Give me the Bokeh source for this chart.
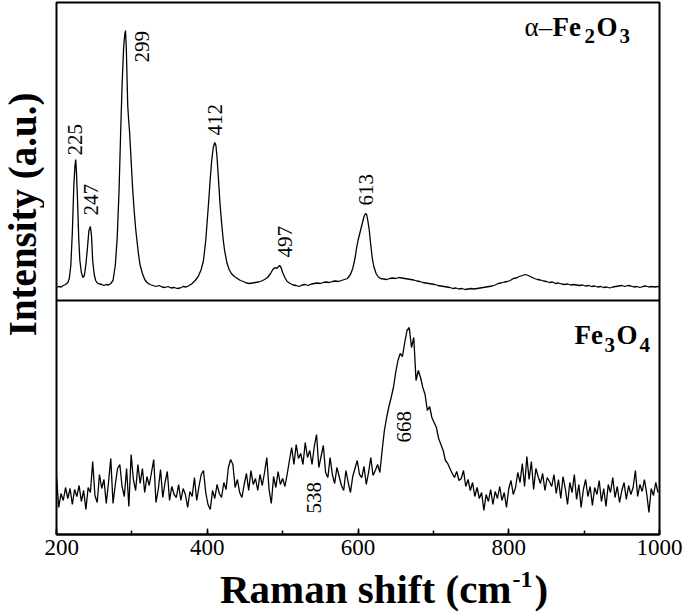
import math
from bokeh.plotting import figure
from bokeh.layouts import row, column
from bokeh.models import Range1d, Span, SingleIntervalTicker
from bokeh.core.properties import value
from bokeh.embed import file_html
from bokeh.resources import INLINE

# ---------------- data ----------------
# alpha-Fe2O3 spectrum (upper panel), Raman shift (cm-1) / intensity (a.u.)
top_x = [200, 203, 206, 209, 212, 215, 217, 219, 221, 223,
         224.5, 225.5, 226.5, 228, 229.5, 231, 233, 235, 237, 239,
         241, 243, 245, 246.5, 248, 250, 252, 254, 257, 260,
         263, 266, 269, 272, 275, 278, 280.5, 283, 285, 287,
         289, 290.5, 291.5, 292.5, 293.5, 294.5, 295.5, 297, 299, 301,
         303, 305, 307, 309, 311, 314, 317, 320, 324, 328,
         332, 336, 340, 344, 348, 352, 356, 360, 364, 368,
         372, 376, 380, 384, 388, 392, 395, 398, 400, 402,
         404, 406, 408, 410, 411.5, 413, 415, 417, 419, 421,
         423, 426, 429, 432, 436, 440, 444, 448, 452, 456,
         460, 464, 468, 472, 476, 480, 484, 487, 490, 492,
         494, 496, 498, 500, 503, 506, 510, 514, 518, 522,
         526, 530, 534, 538, 542, 546, 550, 554, 558, 562,
         566, 570, 574, 578, 582, 586, 590, 593, 596, 598,
         600, 602, 604, 606, 608, 610, 611.5, 613, 615, 617,
         619, 621, 624, 627, 630, 634, 638, 642, 646, 650,
         654, 658, 662, 666, 670, 674, 678, 682, 686, 690,
         694, 698, 702, 706, 710, 714, 718, 722, 726, 730,
         734, 738, 742, 746, 750, 754, 758, 762, 766, 770,
         774, 778, 782, 786, 790, 794, 798, 802, 806, 810,
         814, 818, 822, 826, 830, 834, 838, 842, 846, 850,
         854, 858, 862, 866, 870, 874, 878, 882, 886, 890,
         894, 898, 902, 906, 910, 914, 918, 922, 926, 930,
         934, 938, 942, 946, 950, 954, 958, 962, 966, 970,
         974, 978, 982, 986, 990, 994, 998, 1000]
top_y = [13, 14, 13.5, 15, 16, 18, 22, 35, 68, 115,
         135, 141, 128, 98, 62, 40, 28, 23, 25, 36,
         52, 70, 74, 64, 40, 26, 20, 17.5, 16.5, 16,
         15, 16, 15.5, 17, 20, 35, 62, 110, 165, 215,
         252, 266, 270, 255, 225, 195, 183, 168, 140, 112,
         90, 72, 58, 45, 35, 27, 21, 18, 16, 15,
         14, 15, 13.5, 13, 14, 12.5, 13, 12, 12.5, 14,
         13.5, 15, 17, 20, 24, 31, 40, 60, 80, 100,
         122, 141, 153, 158, 155, 143, 120, 96, 78, 62,
         50, 38, 31, 27, 24, 22, 20, 19, 17.5, 17,
         17.5, 18, 18.5, 19.5, 21, 23, 27, 31, 33, 32,
         33.5, 35, 33, 28, 23, 19, 17, 15.5, 15, 14,
         15.5, 16, 15, 16.5, 17, 17.5, 17, 18, 18.5, 18,
         19, 19.5, 19, 20, 21, 22, 26, 32, 42, 52,
         60, 66, 72, 78, 84, 87, 86, 80, 70, 55,
         42, 34, 27, 23.5, 22, 21.5, 21, 22, 22.5, 22,
         23, 22.5, 22, 21.5, 21, 20.5, 19.5, 19, 18, 17.5,
         17, 16.5, 16, 15, 14.5, 14, 13.5, 13, 12, 12.5,
         11.5, 12, 11, 11.5, 12, 11.5, 12, 12.5, 13, 13.5,
         14, 14.5, 15.5, 17, 17.5, 18.5, 19, 20, 22, 22.5,
         24, 25, 26, 25, 23.5, 22, 21, 20.5, 19.5, 19,
         18, 18.5, 17, 17.5, 16.5, 16, 16.5, 15.5, 16, 15.5,
         15, 15.5, 14.5, 15, 14, 14.5, 13.5, 14, 13, 13.5,
         12.5, 13.5, 14, 14.5, 15, 14, 15, 14.5, 13.5, 14,
         13, 14, 14.5, 13.5, 14, 13.5, 14, 13.5]

# Fe3O4 spectrum (lower panel), sampled every 3 cm-1 from 200 cm-1
bottom_y = [58, 27, 41, 34, 47, 36, 46, 30, 45, 38,
            49, 33, 44, 25, 47, 42, 73, 39, 32, 60,
            46, 55, 31, 52, 76, 31, 50, 66, 70, 48,
            38, 66, 28, 80, 55, 44, 70, 51, 66, 42,
            58, 49, 62, 75, 32, 45, 65, 37, 52, 63,
            34, 48, 40, 37, 50, 34, 46, 40, 27, 43,
            38, 57, 34, 48, 60, 64, 42, 30, 25, 44,
            36, 50, 41, 37, 52, 45, 67, 75, 70, 47,
            55, 42, 37, 50, 61, 44, 64, 50, 56, 44,
            60, 49, 62, 77, 45, 31, 58, 47, 63, 50,
            56, 48, 60, 74, 87, 70, 90, 76, 81, 70,
            92, 77, 84, 70, 88, 100, 67, 78, 89, 62,
            57, 77, 60, 51, 67, 58, 49, 44, 64, 52,
            42, 58, 66, 74, 60, 57, 68, 50, 62, 77,
            59, 64, 70, 62, 84, 104, 117, 128, 137, 147,
            162, 174, 181, 178, 192, 204, 207, 187, 197, 154,
            164, 157, 147, 140, 124, 128, 117, 112, 107, 96,
            90, 84, 74, 71, 66, 61, 57, 63, 54, 56,
            64, 48, 55, 44, 52, 38, 47, 36, 42, 24,
            40, 33, 45, 30, 43, 36, 48, 34, 42, 27,
            46, 54, 40, 47, 62, 52, 71, 48, 78, 55,
            73, 45, 66, 58, 51, 61, 44, 57, 53, 48,
            60, 41, 55, 36, 58, 46, 30, 52, 42, 60,
            35, 50, 27, 45, 55, 38, 48, 29, 47, 40,
            54, 33, 46, 28, 50, 42, 57, 37, 48, 32,
            44, 52, 35, 49, 40, 47, 64, 38, 50, 43,
            55, 41, 22, 46, 39, 52, 42]
bottom_x = [200 + 3 * i for i in range(len(bottom_y))]

# peak annotations
top_peak_labels = ["225", "247", "299", "412", "497", "613"]
bottom_peak_labels = ["538", "668"]
x_tick_interval = 200

SERIF = "Liberation Serif"
LEFT_W = 44      # width of the y-title strip
MAIN_H = 565     # height of the plot row
XT_H = 47        # height of the x-title strip
MID = 0.33       # distance baseline -> text middle, in em

# ---------------- main figure ----------------
p = figure(width=685 - LEFT_W, height=MAIN_H, output_backend="svg",
           toolbar_location=None,
           x_range=Range1d(200, 1000), y_range=Range1d(0, 532),
           min_border_left=56 - LEFT_W, min_border_right=26, min_border_top=2,
           min_border_bottom=MAIN_H - 534, background_fill_color="white",
           border_fill_color="white")
p.extra_y_ranges = {"top": Range1d(-234, 298)}
p.xgrid.visible = False
p.ygrid.visible = False
p.yaxis.visible = False
p.outline_line_color = "black"
p.outline_line_width = 2
p.outline_line_alpha = 1.0

ax = p.xaxis[0]
ax.ticker = SingleIntervalTicker(interval=x_tick_interval, num_minor_ticks=2)
ax.axis_line_color = "black"
ax.axis_line_width = 2
ax.major_tick_in = 6
ax.major_tick_out = 0
ax.minor_tick_in = 4
ax.minor_tick_out = 0
ax.major_tick_line_width = 1.5
ax.minor_tick_line_width = 1.5
ax.major_tick_line_color = "black"
ax.minor_tick_line_color = "black"
ax.major_label_text_font = SERIF
ax.major_label_text_font_size = "23px"
ax.major_label_text_color = "black"
ax.major_label_standoff = 5

# divider between the two panels
p.add_layout(Span(location=234, dimension="width", line_color="black", line_width=2))

# spectra
p.line(top_x, top_y, y_range_name="top", line_color="black", line_width=1.3)
p.line(bottom_x, bottom_y, line_color="black", line_width=1.3)

# peak labels (rotated)
top_lab_x = [224.5, 245.7, 313.4, 410, 503, 610]
top_lab_y = [145, 85, 238, 165, 43, 95]
p.text(x=top_lab_x, y=top_lab_y, text=top_peak_labels, y_range_name="top",
       angle=math.pi / 2, text_font=value(SERIF), text_font_size="21px",
       text_align="left", text_baseline="middle", text_color="black")
bot_lab_x = [541.5, 661.5]
bot_lab_y = [21, 92]
p.text(x=bot_lab_x, y=bot_lab_y, text=bottom_peak_labels,
       angle=math.pi / 2, text_font=value(SERIF), text_font_size="21px",
       text_align="left", text_baseline="middle", text_color="black")


def rx(px):
    return 200 + (px - 56) / 0.75375


def piece(fig, text, x, y, size, bold=True, align="left", angle=0.0):
    """x, y: position of the text's middle line, in the figure's units."""
    fig.text(x=[x], y=[y], text=[text], text_font=value(SERIF),
             text_font_size="%dpx" % size,
             text_font_style="bold" if bold else "normal",
             text_align=align, text_baseline="middle",
             angle=angle, text_color="black")


def inner(text, px, base_py, size, bold=True):
    # place a text whose baseline sits at reference pixel row base_py
    piece(p, text, rx(px), 534 - base_py + MID * size, size, bold)


# compound labels
inner("\u03b1\u2013", 524, 35, 27, bold=False)
inner("Fe", 552, 35, 27)
inner("2", 584, 42, 21)
inner("O", 596, 35, 27)
inner("3", 619, 42, 21)

inner("Fe", 574, 343, 27)
inner("3", 604, 351, 21)
inner("O", 616, 343, 27)
inner("4", 639, 351, 21)


def strip(w, h):
    f = figure(width=w, height=h, output_backend="svg", toolbar_location=None,
               x_range=Range1d(0, w), y_range=Range1d(0, h),
               x_axis_type=None, y_axis_type=None, min_border=0,
               background_fill_color="white", border_fill_color="white")
    f.outline_line_color = None
    return f


# y-axis title strip (coordinates: pixels from the strip's bottom-left)
yt = strip(LEFT_W, MAIN_H)
piece(yt, "Intensity (a.u.)", 35 - MID * 39, MAIN_H - 225, 39, align="center",
      angle=math.pi / 2)

# x-axis title strip
xt = strip(685, XT_H)
piece(xt, "Raman shift (cm", 511, (612 - 602) + MID * 41, 41, align="right")
piece(xt, "-1", 512, (612 - 587) + MID * 24, 24)
piece(xt, ")", 534, (612 - 602) + MID * 41, 41)

layout = column(row(yt, p, spacing=0), xt, spacing=0)

open("out.html", "w").write(file_html(layout, INLINE))
